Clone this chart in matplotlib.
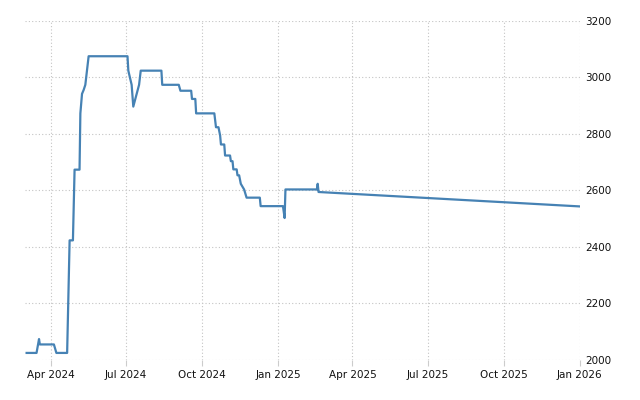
import pandas as pd
import matplotlib
matplotlib.use("Agg")
import matplotlib.pyplot as plt
import matplotlib.dates as mdates

dates = [
    "2024-03-03", "2024-03-15", "2024-03-18", "2024-03-19", "2024-04-05",
    "2024-04-08", "2024-04-21", "2024-04-24", "2024-04-28", "2024-04-30",
    "2024-05-06", "2024-05-07", "2024-05-09", "2024-05-11", "2024-05-13",
    "2024-05-17", "2024-07-03", "2024-07-04", "2024-07-08", "2024-07-10",
    "2024-07-17", "2024-07-19", "2024-08-13", "2024-08-14", "2024-09-03",
    "2024-09-05", "2024-09-18", "2024-09-19", "2024-09-23", "2024-09-24",
    "2024-10-16", "2024-10-18", "2024-10-21", "2024-10-23", "2024-10-24",
    "2024-10-28", "2024-10-29", "2024-11-04", "2024-11-05", "2024-11-07",
    "2024-11-08", "2024-11-12", "2024-11-13", "2024-11-15", "2024-11-17",
    "2024-11-21", "2024-11-24", "2024-12-10", "2024-12-11", "2025-01-07",
    "2025-01-09", "2025-01-10", "2025-02-17", "2025-02-18", "2025-02-19",
    "2026-01-01",
]
values = [
    2025, 2025, 2074, 2055, 2055,
    2025, 2025, 2423, 2423, 2673,
    2673, 2872, 2941, 2955, 2973,
    3074, 3074, 3023, 2973, 2896,
    2973, 3023, 3023, 2973, 2973,
    2952, 2952, 2923, 2923, 2872,
    2872, 2823, 2823, 2794, 2762,
    2762, 2723, 2723, 2703, 2703,
    2674, 2674, 2653, 2653, 2623,
    2603, 2574, 2574, 2544, 2544,
    2502, 2603, 2603, 2623, 2594,
    2543,
]
y_ticks = [2000, 2200, 2400, 2600, 2800, 3000, 3200]
x_ticks = ["2024-04-01", "2024-07-01", "2024-10-01", "2025-01-01",
           "2025-04-01", "2025-07-01", "2025-10-01", "2026-01-01"]

df = pd.DataFrame({"date": pd.to_datetime(dates), "value": values})

fig = plt.figure(figsize=(6.4, 4.0), dpi=100)
ax = fig.add_axes([0.039, 0.1, 0.867, 0.8485])

ax.plot(df["date"], df["value"], color="#4682b4", linewidth=1.6)

ax.set_xlim(pd.Timestamp("2024-03-01"), pd.Timestamp("2026-01-01"))
ax.set_ylim(2000, 3200)

ax.set_yticks(y_ticks)
ax.yaxis.tick_right()
ax.set_xticks(pd.to_datetime(x_ticks))
ax.xaxis.set_major_formatter(mdates.DateFormatter("%b %Y"))

ax.tick_params(axis="y", length=0, labelsize=7.5, pad=4, labelcolor="#111111")
ax.tick_params(axis="x", length=4, color="#cccccc", labelsize=7.5, pad=3,
               labelcolor="#111111")

ax.grid(True, linestyle=(0, (1, 2)), color="#c4c4c4", linewidth=0.8)
for s in ax.spines.values():
    s.set_visible(False)

fig.savefig("out.png", dpi=100)
